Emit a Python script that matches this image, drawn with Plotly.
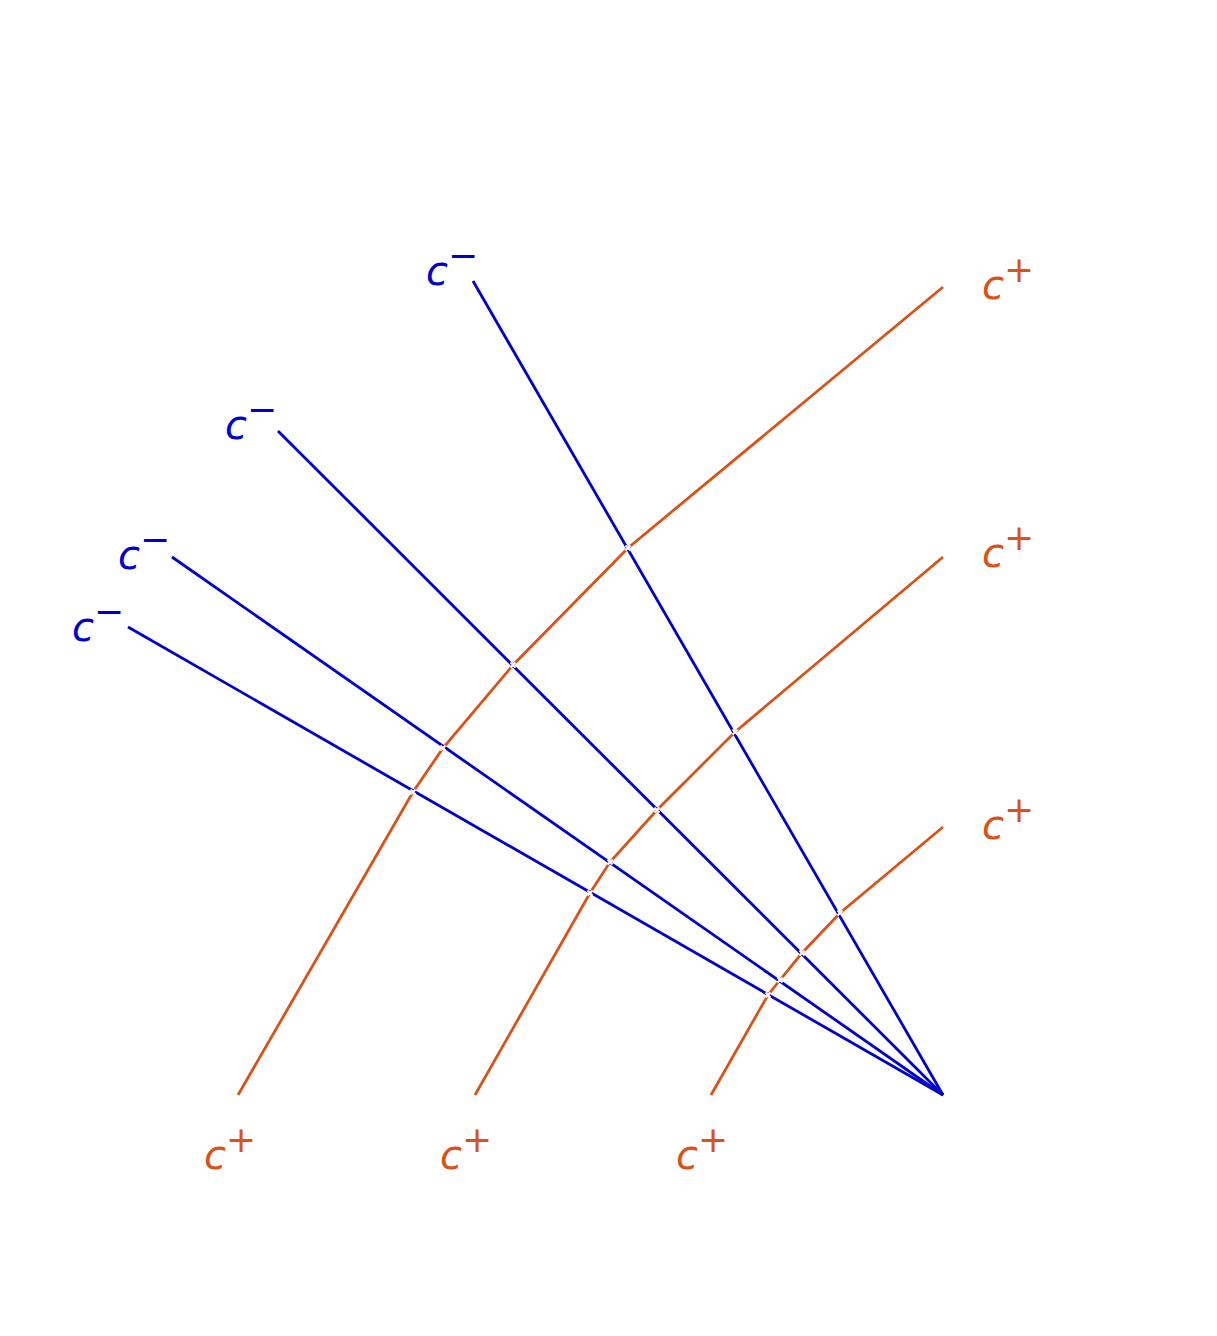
import plotly.graph_objects as go

# coordinates (pixel-like units, y downward)
apex = (943, 1095)
blue_ends_x = [473, 278, 172, 128]
blue_ends_y = [281, 431, 557, 627]

orange1_x = [238, 413, 443, 513, 628, 943]
orange1_y = [1095, 792, 748, 665, 548, 287]
orange2_x = [475, 590, 610, 657, 735, 943]
orange2_y = [1095, 893, 862, 810, 732, 557]
orange3_x = [711, 768, 780, 802, 840, 943]
orange3_y = [1095, 995, 980, 953, 913, 827]

blue_label_x = [458, 257, 150, 104]
blue_label_y = [264, 418, 548, 620]
right_label_x = [1014, 1014, 1014]
right_label_y = [278, 546, 818]
bottom_label_x = [236, 472, 708]
bottom_label_y = [1148, 1148, 1148]

BLUE = "#0000cc"
ORANGE = "#d95319"

fig = go.Figure()
for ox, oy in [(orange1_x, orange1_y), (orange2_x, orange2_y), (orange3_x, orange3_y)]:
    fig.add_trace(go.Scatter(x=ox, y=oy, mode="lines",
                             line=dict(color=ORANGE, width=2.8), hoverinfo="skip"))
for bx, by in zip(blue_ends_x, blue_ends_y):
    fig.add_trace(go.Scatter(x=[apex[0], bx], y=[apex[1], by], mode="lines",
                             line=dict(color=BLUE, width=2.8), hoverinfo="skip"))

# small gaps at crossings
cx = orange1_x[1:5] + orange2_x[1:5] + orange3_x[1:5]
cy = orange1_y[1:5] + orange2_y[1:5] + orange3_y[1:5]
fig.add_trace(go.Scatter(x=cx, y=cy, mode="markers",
                         marker=dict(color="white", size=5, symbol="x-thin",
                                     line=dict(color="white", width=2)),
                         hoverinfo="skip"))

font = "DejaVu Sans"
sup = "<i>c</i><sup><span style='font-size:36px'>%s</span></sup>"
for x, y in zip(blue_label_x, blue_label_y):
    fig.add_annotation(x=x, y=y, text=sup % "−", showarrow=False, xshift=-6,
                       font=dict(family=font, size=40, color=BLUE))
for x, y in zip(right_label_x + bottom_label_x, right_label_y + bottom_label_y):
    fig.add_annotation(x=x, y=y, text=sup % "+", showarrow=False, xshift=-6,
                       font=dict(family=font, size=40, color=ORANGE))

fig.update_layout(
    width=1217, height=1336, showlegend=False,
    margin=dict(l=0, r=0, t=0, b=0),
    plot_bgcolor="white", paper_bgcolor="white",
    xaxis=dict(range=[8, 1225], visible=False),
    yaxis=dict(range=[1344, 8], visible=False),
)
fig.write_html("out.html")
